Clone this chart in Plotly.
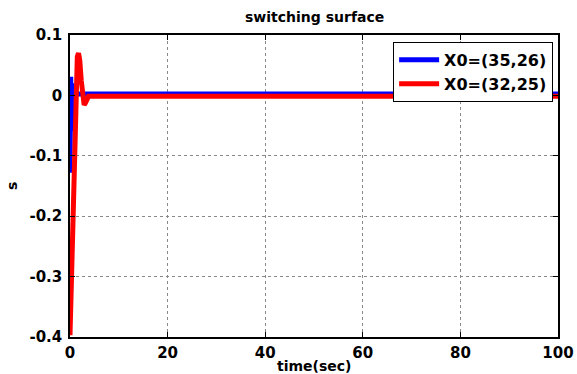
import plotly.graph_objects as go

# Sliding-surface response s(t) for two initial conditions
t_blue = [0, 0.15, 0.3, 0.45, 0.6, 0.75, 1.0, 100]
s_blue = [-0.128, 0.031, -0.06, 0.02, -0.01, 0.0025, 0.0025, 0.0025]

t_red = [0, 0.3, 0.6, 0.9, 1.2, 1.5, 1.75, 2.0, 2.3, 2.6, 2.9, 3.2, 3.5, 3.8, 100]
s_red = [-0.397, -0.30, -0.17, -0.05, 0.03, 0.064, 0.070, 0.058, 0.025, -0.008,
         -0.016, -0.012, -0.004, -0.0015, -0.0015]

series_names = ["X0=(35,26)", "X0=(32,25)"]

x_ticks = [0, 20, 40, 60, 80, 100]
y_ticks = [0.1, 0, -0.1, -0.2, -0.3, -0.4]
y_tick_text = ["0.1", "0", "-0.1", "-0.2", "-0.3", "-0.4"]

FONT = "DejaVu Sans, Verdana, sans-serif"

fig = go.Figure()
fig.add_trace(go.Scatter(x=t_blue, y=s_blue, mode="lines", name=series_names[0],
                         line=dict(color="#0000ff", width=5)))
fig.add_trace(go.Scatter(x=t_red, y=s_red, mode="lines", name=series_names[1],
                         line=dict(color="#ff0000", width=5)))

axis_common = dict(
    showline=True, linecolor="black", linewidth=1.5, mirror="allticks",
    ticks="inside", ticklen=5, tickcolor="black",
    showgrid=True, gridcolor="#888888", gridwidth=1, griddash="dot",
    zeroline=False, automargin=False,
    tickfont=dict(family=FONT, size=15, color="black", weight="bold"),
)

fig.update_xaxes(range=[0, 100], tickvals=x_ticks, ticklabelstandoff=1, **axis_common)
fig.update_yaxes(range=[-0.4, 0.1], tickvals=y_ticks, ticktext=y_tick_text,
                 ticklabelstandoff=3, **axis_common)

fig.update_layout(
    width=577, height=374,
    margin=dict(l=70, r=19, t=35, b=37),
    paper_bgcolor="white", plot_bgcolor="white",
    showlegend=True,
    legend=dict(
        x=0.99, y=0.977, xanchor="right", yanchor="top",
        bgcolor="white", bordercolor="black", borderwidth=1,
        font=dict(family=FONT, size=16, color="black", weight="bold"),
        tracegroupgap=0, itemwidth=40,
    ),
    annotations=[
        dict(text="switching surface", xref="paper", yref="paper", x=0.5, y=1,
             yshift=18, xanchor="center", yanchor="middle", showarrow=False,
             font=dict(family=FONT, size=14, color="black", weight="bold")),
        dict(text="time(sec)", xref="paper", yref="paper", x=0.5, y=0,
             yshift=-29, xanchor="center", yanchor="middle", showarrow=False,
             font=dict(family=FONT, size=14, color="black", weight="bold")),
        dict(text="s", xref="paper", yref="paper", x=0, y=0.5,
             xshift=-58, xanchor="center", yanchor="middle", textangle=-90,
             showarrow=False,
             font=dict(family=FONT, size=14, color="black", weight="bold")),
    ],
)

fig.write_html("out.html")
